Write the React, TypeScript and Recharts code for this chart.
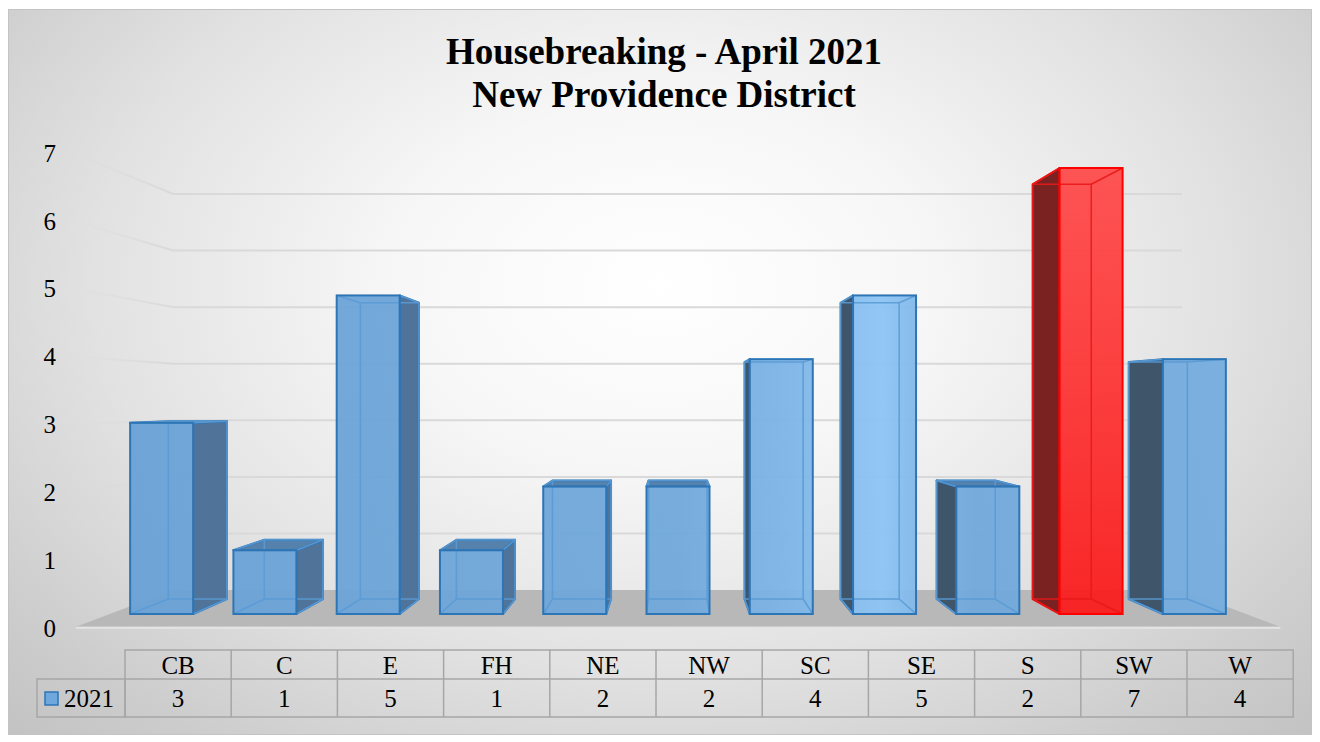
import { BarChart, Bar, XAxis, YAxis, CartesianGrid, Customized } from "recharts";

// data
const categories = ["CB", "C", "E", "FH", "NE", "NW", "SC", "SE", "S", "SW", "W"];
const counts2021 = [3, 1, 5, 1, 2, 2, 4, 5, 2, 7, 4];
const yTicks = [0, 1, 2, 3, 4, 5, 6, 7];
const seriesName = "2021";
const highlighted = "SW";
const titleLines = ["Housebreaking - April 2021", "New Providence District"];

const data = categories.map((name, i) => ({ name, value: counts2021[i] }));

// layout / perspective
const W = 1320;
const H = 742;
const PLOT = { left: 110, right: 1246, top: 168, bottom: 614 };
const Y_AXIS_W = 60;
const VX = 675; // vanishing point
const VY = 400;
const BAR_DEPTH = 0.93;
const WALL = 0.888;
const FRONT = 1.06;
const FONT = "'Liberation Serif', 'Times New Roman', serif";

const proj = (px: number, py: number, s: number) => [VX + (px - VX) * s, VY + (py - VY) * s];
const pts = (arr: number[][]) => arr.map((a) => a.join(",")).join(" ");

function Box3D(props: any) {
  const { x, y, width, height, payload } = props;
  const hot = payload.name === highlighted;
  const x0 = x;
  const x1 = x + width;
  const yT = y;
  const yB = y + height;
  const [bx0, byT] = proj(x0, yT, BAR_DEPTH);
  const [bx1, byB] = proj(x1, yB, BAR_DEPTH);

  const stroke = hot ? "#ff0000" : "#2e75b6";
  const inner = hot ? "#e81a1a" : "#5b9bd5";
  const front = hot ? "url(#redFront)" : "url(#blueFront)";
  const sideFill = hot ? "#7a2222" : x0 > VX ? "#3f5569" : "#50739a";
  const topFill = hot ? "#b02020" : "#5582ad";

  let side: number[][] | null = null;
  if (x1 < VX) side = [[x1, yT], [bx1, byT], [bx1, byB], [x1, yB]];
  else if (x0 > VX) side = [[x0, yT], [bx0, byT], [bx0, byB], [x0, yB]];
  const top = yT > VY ? [[x0, yT], [x1, yT], [bx1, byT], [bx0, byT]] : null;

  return (
    <g>
      {side && <polygon points={pts(side)} fill={sideFill} stroke={stroke} strokeWidth={2} strokeLinejoin="round" />}
      {top && <polygon points={pts(top)} fill={topFill} stroke={stroke} strokeWidth={2} strokeLinejoin="round" />}
      <rect x={x0} y={yT} width={width} height={height} fill={front} fillOpacity={0.95} />
      <g stroke={inner} strokeWidth={1.5} fill="none" opacity={0.9}>
        <rect x={bx0} y={byT} width={bx1 - bx0} height={byB - byT} />
        <line x1={x0} y1={yB} x2={bx0} y2={byB} />
        <line x1={x1} y1={yB} x2={bx1} y2={byB} />
        <line x1={x0} y1={yT} x2={bx0} y2={byT} />
        <line x1={x1} y1={yT} x2={bx1} y2={byT} />
      </g>
      <rect x={x0} y={yT} width={width} height={height} fill="none" stroke={stroke} strokeWidth={2} />
    </g>
  );
}

function GridLine(p: any) {
  const y = p.y1;
  if (Math.abs(y - PLOT.bottom) < 0.5) {
    const bl = proj(PLOT.left, y, WALL);
    const br = proj(PLOT.right, y, WALL);
    const fr = proj(PLOT.right, y, FRONT);
    const fl = proj(PLOT.left, y, FRONT);
    return (
      <g>
        <polygon points={pts([bl, br, fr, fl])} fill="#b8b8b8" />
        <line x1={fl[0]} y1={fl[1] + 1} x2={fr[0]} y2={fr[1] + 1} stroke="#e4e4e4" strokeWidth={2} />
      </g>
    );
  }
  const bl = proj(PLOT.left, y, WALL);
  const br = proj(PLOT.right, y, WALL);
  const fl = proj(PLOT.left, y, FRONT);
  return (
    <g>
      <line x1={fl[0]} y1={fl[1]} x2={bl[0]} y2={bl[1]} stroke="url(#sideWall)" strokeWidth={2} />
      <line x1={bl[0]} y1={bl[1]} x2={br[0]} y2={br[1]} stroke="#d9d9d9" strokeWidth={2} />
    </g>
  );
}

function YTick(p: any) {
  const [, ty] = proj(0, p.y, 1.065);
  return (
    <text x={56} y={ty} dy="0.35em" textAnchor="end" fontFamily={FONT} fontSize={25} fill="#000">
      {p.payload.value}
    </text>
  );
}

function Decor() {
  return (
    <g>
      <defs>
        <linearGradient id="blueFront" gradientUnits="userSpaceOnUse" x1={PLOT.left} y1={0} x2={PLOT.right} y2={0}>
          <stop offset="0" stopColor="#69a1d6" />
          <stop offset="0.5" stopColor="#70a8db" />
          <stop offset="0.6" stopColor="#7db5e7" />
          <stop offset="0.68" stopColor="#8dc5f5" />
          <stop offset="0.73" stopColor="#78b0e2" />
          <stop offset="0.76" stopColor="#70a8db" />
          <stop offset="1" stopColor="#75addf" />
        </linearGradient>
        <linearGradient id="redFront" x1="0" y1="0" x2="0" y2="1">
          <stop offset="0" stopColor="#ff4c4c" />
          <stop offset="1" stopColor="#fa1c1c" />
        </linearGradient>
        <linearGradient id="sideWall" x1="0" y1="0" x2="1" y2="0">
          <stop offset="0" stopColor="#d9d9d9" stopOpacity={0} />
          <stop offset="1" stopColor="#d9d9d9" stopOpacity={1} />
        </linearGradient>
      </defs>
      <text x={664} y={64} textAnchor="middle" fontFamily={FONT} fontWeight="bold" fontSize={37}>
        {titleLines[0]}
      </text>
      <text x={664} y={107} textAnchor="middle" fontFamily={FONT} fontWeight="bold" fontSize={37}>
        {titleLines[1]}
      </text>
    </g>
  );
}

function DataTable() {
  const left = 125;
  const colW = 106.2;
  const legendLeft = 37;
  const r0 = 650;
  const r1 = 679;
  const r2 = 717;
  const right = left + colW * categories.length;
  const lc = "#a6a6a6";
  return (
    <g fontFamily={FONT} fontSize={25} fill="#000">
      <g stroke={lc} strokeWidth={1.5} fill="none">
        <rect x={left} y={r0} width={right - left} height={r2 - r0} />
        <rect x={legendLeft} y={r1} width={left - legendLeft} height={r2 - r1} />
        <line x1={left} y1={r1} x2={right} y2={r1} />
        {categories.map((_, i) =>
          i > 0 ? <line key={i} x1={left + colW * i} y1={r0} x2={left + colW * i} y2={r2} /> : null
        )}
      </g>
      <rect x={45} y={692} width={13} height={13} fill="#6fa8dc" stroke="#2e75b6" strokeWidth={1.5} />
      <text x={64} y={(r1 + r2) / 2} dy="0.35em">
        {seriesName}
      </text>
      {categories.map((c, i) => (
        <text key={c} x={left + colW * (i + 0.5)} y={(r0 + r1) / 2 + 1} dy="0.35em" textAnchor="middle">
          {c}
        </text>
      ))}
      {counts2021.map((v, i) => (
        <text key={i} x={left + colW * (i + 0.5)} y={(r1 + r2) / 2} dy="0.35em" textAnchor="middle">
          {v}
        </text>
      ))}
    </g>
  );
}

export default function App() {
  return (
    <div style={{ position: "absolute", left: 0, top: 0, width: W, height: H, background: "#fff" }}>
      <div
        style={{
          position: "absolute",
          left: 8,
          top: 9,
          width: 1302,
          height: 724,
          border: "1px solid #c4c4c4",
          background:
            "radial-gradient(ellipse 72% 88% at 50% 38%, #ffffff 0%, #f7f7f7 28%, #e2e2e2 60%, #cdcdcd 85%, #c2c2c2 100%)",
        }}
      />
      <div style={{ position: "absolute", left: 0, top: 0 }}>
        <BarChart
          width={W}
          height={H}
          data={data}
          barCategoryGap="19.5%"
          margin={{
            top: PLOT.top,
            right: W - PLOT.right,
            bottom: H - PLOT.bottom,
            left: PLOT.left - Y_AXIS_W,
          }}
        >
          <CartesianGrid vertical={false} horizontal={GridLine} />
          <XAxis dataKey="name" hide />
          <YAxis
            domain={[0, 7]}
            ticks={yTicks}
            width={Y_AXIS_W}
            axisLine={false}
            tickLine={false}
            tick={YTick}
            interval={0}
          />
          <Customized component={Decor} />
          <Customized component={DataTable} />
          <Bar dataKey="value" name={seriesName} shape={Box3D} isAnimationActive={false} />
        </BarChart>
      </div>
    </div>
  );
}
